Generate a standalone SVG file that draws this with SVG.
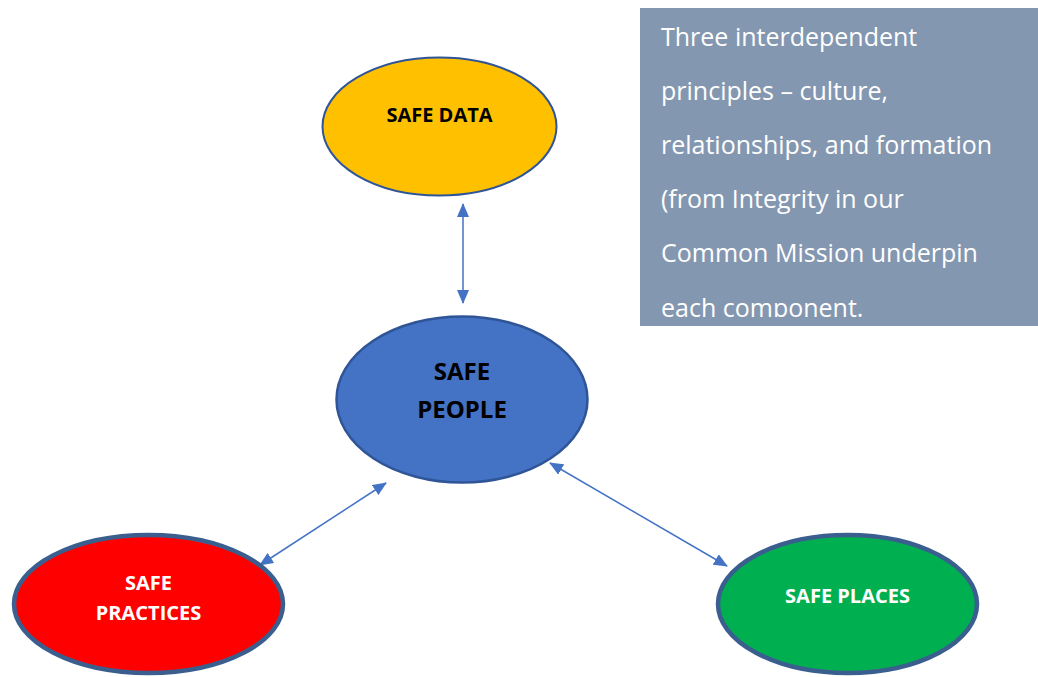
<svg xmlns="http://www.w3.org/2000/svg" width="1038" height="677" viewBox="0 0 1038 677">
<style>
.lbl{font-family:"Open Sans","Noto Sans",sans-serif;font-weight:bold;text-anchor:middle}
.note{font-family:"Open Sans","Noto Sans",sans-serif;font-size:25px;fill:#ffffff}
.con{stroke:#4472C4;stroke-width:1.5;fill:none;marker-start:url(#ah);marker-end:url(#ah)}
</style>
<defs>
<marker id="ah" viewBox="0 0 14 12" refX="13" refY="6" markerWidth="14" markerHeight="12" markerUnits="userSpaceOnUse" orient="auto-start-reverse">
<path d="M0,0 L14,6 L0,12 Z" fill="#4472C4"/>
</marker>
<clipPath id="boxclip"><rect x="640" y="8" width="398" height="309"/></clipPath>
</defs>
<rect width="1038" height="677" fill="#ffffff"/>
<g id="note">
<rect x="640" y="8" width="398" height="318" fill="#8497B0"/>
<g clip-path="url(#boxclip)">
<text class="note" x="661" y="46">Three interdependent</text>
<text class="note" x="661" y="100">principles – culture,</text>
<text class="note" x="661" y="154">relationships, and formation</text>
<text class="note" x="661" y="208">(from Integrity in our</text>
<text class="note" x="661" y="262">Common Mission underpin</text>
<text class="note" x="661" y="317">each component.</text>
</g>
</g>
<g id="connectors">
<line class="con" x1="463" y1="204" x2="463" y2="303"/>
<line class="con" x1="260" y1="565" x2="386" y2="483"/>
<line class="con" x1="550" y1="463" x2="727" y2="566"/>
</g>
<g id="safe-data">
<ellipse cx="439.5" cy="126.5" rx="117" ry="69" fill="#FFC000" stroke="#2F5597" stroke-width="2"/>
<text class="lbl" x="439.5" y="122" font-size="20" fill="#000000">SAFE DATA</text>
</g>
<g id="safe-people">
<ellipse cx="462" cy="399.5" rx="125.5" ry="83" fill="#4472C4" stroke="#2F5597" stroke-width="2.5"/>
<text class="lbl" x="462" y="380" font-size="24" fill="#000000">SAFE</text>
<text class="lbl" x="462" y="418" font-size="24" fill="#000000">PEOPLE</text>
</g>
<g id="safe-practices">
<ellipse cx="148.5" cy="604" rx="134.5" ry="69" fill="#FF0000" stroke="#3A5F8F" stroke-width="4.5"/>
<text class="lbl" x="148.5" y="590" font-size="20" fill="#ffffff">SAFE</text>
<text class="lbl" x="148.5" y="620" font-size="20" fill="#ffffff">PRACTICES</text>
</g>
<g id="safe-places">
<ellipse cx="847.5" cy="604" rx="129.5" ry="69" fill="#00B050" stroke="#3A5F8F" stroke-width="4.5"/>
<text class="lbl" x="847.5" y="603" font-size="20" fill="#ffffff">SAFE PLACES</text>
</g>
</svg>
